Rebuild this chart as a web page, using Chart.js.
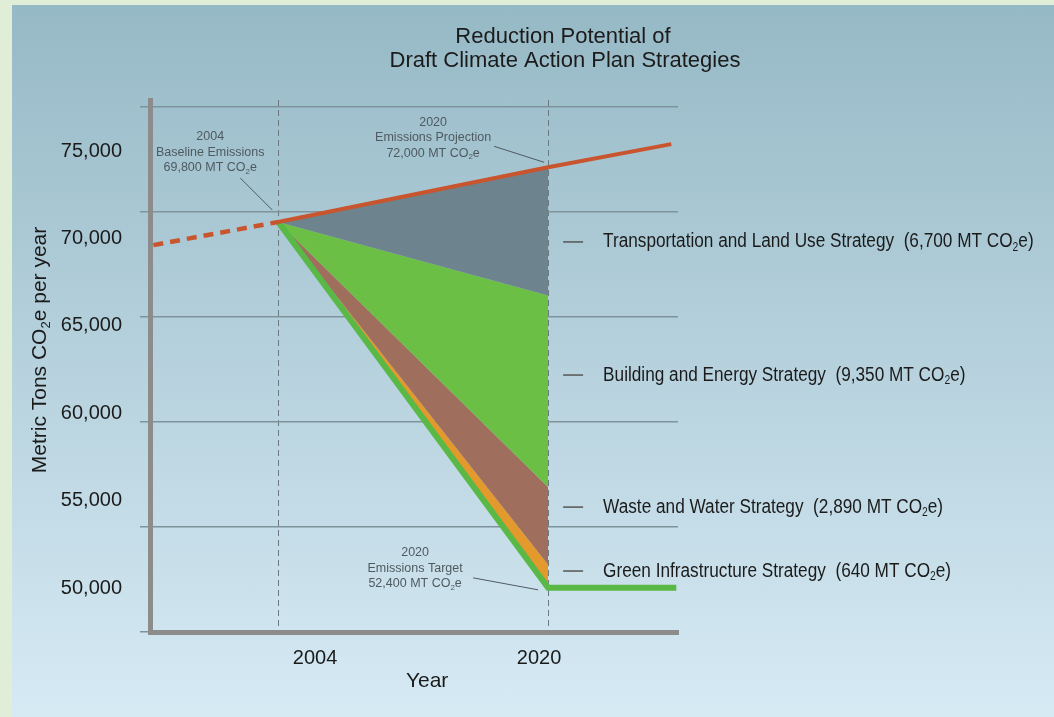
<!DOCTYPE html>
<html>
<head>
<meta charset="utf-8">
<script src="https://cdn.jsdelivr.net/npm/chart.js@4"></script>
<style>
  html, body { margin: 0; padding: 0; }
  body { width: 1054px; height: 717px; background: #e1eed7; position: relative; overflow: hidden; }
  #panel { position: absolute; left: 12px; top: 5px; right: 0; bottom: 0; background: linear-gradient(#96b9c6, #d6eaf4); }
  #chart { position: absolute; left: 0; top: 0; }
</style>
</head>
<body>
<div id="panel"></div>
<canvas id="chart" width="1054" height="717"></canvas>
<script>
// values (MT CO2e per year)
const histYears = [1996.6, 2004];
const histValues = [68400, 69500];
const projYears = [2004, 2020, 2027.3];
const projValues = [69500, 72100, 73200];
const wedgeYears = [2004, 2020];
const transportEdge = [69500, 66000];
const buildingEdge = [69500, 56900];
const wasteEdge = [69500, 53200];
const greenEdge = [69500, 52100];
const targetYears = [2004, 2020, 2027.6];
const targetValues = [69500, 52100, 52100];

const strategies = ['Transportation and Land Use Strategy', 'Building and Energy Strategy',
  'Waste and Water Strategy', 'Green Infrastructure Strategy'];
const strategyTons = ['6,700', '9,350', '2,890', '640'];
const yTickValues = [50000, 55000, 60000, 65000, 70000, 75000];
const xTickValues = [2004, 2020];

// where the strategy labels sit (y value at 2020)
const strategyLabelAt = [68550, 62220, 55940, 52900];

const notes = [
  { lines: ['2004', 'Baseline Emissions', '69,800 MT CO₂e'], year: 2004, value: 69500, dx: -68, dy: -85, lead: [-38, -44, -6, -12] },
  { lines: ['2020', 'Emissions Projection', '72,000 MT CO₂e'], year: 2020, value: 72100, dx: -115, dy: -45, lead: [-54, -21, -4, -5] },
  { lines: ['2020', 'Emissions Target', '52,400 MT CO₂e'], year: 2020, value: 52100, dx: -133, dy: -35, lead: [-75, -10, -10, 2] }
];

const FONT = '"Liberation Sans", Arial, sans-serif';

function pts(xs, ys) {
  return xs.map((x, i) => ({ x: x, y: ys[i] }));
}

// text with a lowered small "2" wherever ₂ appears
function richText(ctx, str, x, y, size, color, align, sx) {
  sx = sx || 1;
  const parts = str.split('₂');
  const big = size + 'px ' + FONT;
  const small = Math.round(size * 0.62) + 'px ' + FONT;
  ctx.save();
  ctx.fillStyle = color;
  ctx.textBaseline = 'middle';
  ctx.textAlign = 'left';
  let w = 0;
  parts.forEach((p, i) => {
    ctx.font = big; w += ctx.measureText(p).width;
    if (i < parts.length - 1) { ctx.font = small; w += ctx.measureText('2').width; }
  });
  ctx.translate(x, y);
  ctx.scale(sx, 1);
  let cx = align === 'center' ? -w / 2 : (align === 'right' ? -w : 0);
  parts.forEach((p, i) => {
    ctx.font = big; ctx.fillText(p, cx, 0); cx += ctx.measureText(p).width;
    if (i < parts.length - 1) {
      ctx.font = small; ctx.fillText('2', cx, size * 0.3); cx += ctx.measureText('2').width;
    }
  });
  ctx.restore();
}

const overlay = {
  id: 'overlay',
  afterDraw(chart) {
    const ctx = chart.ctx;
    const xs = chart.scales.x, ys = chart.scales.y, xl = chart.scales.xl;

    richText(ctx, 'Reduction Potential of', 563, 37, 22, '#1b1b1b', 'center');
    richText(ctx, 'Draft Climate Action Plan Strategies', 565, 61, 22, '#1b1b1b', 'center');

    ctx.save();
    ctx.translate(40, 350);
    ctx.rotate(-Math.PI / 2);
    richText(ctx, 'Metric Tons CO₂e per year', 0, 0, 21, '#1b1b1b', 'center');
    ctx.restore();

    const midX = (xl.getPixelForValue(xTickValues[0]) + xl.getPixelForValue(xTickValues[1])) / 2;
    richText(ctx, 'Year', midX, 681, 21, '#1b1b1b', 'center');

    notes.forEach(n => {
      const px = xs.getPixelForValue(n.year), py = ys.getPixelForValue(n.value);
      n.lines.forEach((t, i) => {
        richText(ctx, t, px + n.dx, py + n.dy + i * 15.5, 12.5, '#4f5a60', 'center');
      });
      ctx.save();
      ctx.strokeStyle = '#4f5a60';
      ctx.lineWidth = 1;
      ctx.beginPath();
      ctx.moveTo(px + n.lead[0], py + n.lead[1]);
      ctx.lineTo(px + n.lead[2], py + n.lead[3]);
      ctx.stroke();
      ctx.restore();
    });

    const x2020 = xs.getPixelForValue(2020);
    strategies.forEach((s, i) => {
      const py = ys.getPixelForValue(strategyLabelAt[i]);
      ctx.save();
      ctx.strokeStyle = '#555';
      ctx.lineWidth = 1.5;
      ctx.beginPath();
      ctx.moveTo(x2020 + 15, py);
      ctx.lineTo(x2020 + 35, py);
      ctx.stroke();
      ctx.restore();
      richText(ctx, s + '  (' + strategyTons[i] + ' MT CO₂e)', x2020 + 55, py, 20, '#1b1b1b', 'left', 0.86);
    });
  }
};

const lineBase = { pointRadius: 0, tension: 0, fill: false };

new Chart(document.querySelector('#chart'), {
  type: 'line',
  data: {
    datasets: [
      Object.assign({ data: pts(projYears, projValues), borderColor: '#c9552e', borderWidth: 4 }, lineBase),
      Object.assign({ data: pts(histYears, histValues), borderColor: '#c9552e', borderWidth: 4.5, borderDash: [10, 7] }, lineBase),
      Object.assign({ data: pts(targetYears, targetValues), borderColor: '#5ab847', borderWidth: 6 }, lineBase),
      Object.assign({}, lineBase, { data: pts(wedgeYears, projValues.slice(0, 2)), borderWidth: 0 }),
      Object.assign({}, lineBase, { data: pts(wedgeYears, transportEdge), borderWidth: 0, fill: 3, backgroundColor: '#6d838d' }),
      Object.assign({}, lineBase, { data: pts(wedgeYears, buildingEdge), borderWidth: 0, fill: 4, backgroundColor: '#6abf44' }),
      Object.assign({}, lineBase, { data: pts(wedgeYears, wasteEdge), borderWidth: 0, fill: 5, backgroundColor: '#a06e5d' }),
      Object.assign({}, lineBase, { data: pts(wedgeYears, greenEdge), borderWidth: 0, fill: 6, backgroundColor: '#e3992b' })
    ]
  },
  options: {
    responsive: false,
    animation: false,
    events: [],
    layout: { padding: { top: 100, right: 376, bottom: 0, left: 0 } },
    plugins: {
      legend: { display: false },
      tooltip: { enabled: false },
      title: { display: false }
    },
    scales: {
      x: {
        type: 'linear', position: 'bottom', weight: 0,
        min: 1996.4, max: 2027.7,
        afterBuildTicks: s => { s.ticks = xTickValues.map(v => ({ value: v })); },
        afterFit: s => { s.height = 0; },
        ticks: { display: false },
        grid: { color: '#6c7a80', lineWidth: 1, drawTicks: false },
        border: { display: true, width: 5, color: '#8c8c8c', dash: [6, 4] }
      },
      xl: {
        type: 'linear', position: 'bottom', weight: 1,
        min: 1992.21, max: 2029.92,
        afterBuildTicks: s => { s.ticks = xTickValues.map(v => ({ value: v })); },
        afterFit: s => { s.height = 85; },
        ticks: { color: '#1b1b1b', font: { family: FONT, size: 20 }, padding: 14, callback: v => String(v) },
        grid: { display: false, drawTicks: false },
        border: { display: false }
      },
      y: {
        type: 'linear', position: 'left', weight: 0,
        min: 50000, max: 75300,
        afterBuildTicks: s => { s.ticks = yTickValues.map(v => ({ value: v })); },
        afterFit: s => { s.width = 10; },
        ticks: { display: false },
        grid: { color: '#7f939b', lineWidth: 1.5, drawTicks: true, tickLength: 10 },
        border: { display: true, width: 5, color: '#8c8c8c' }
      },
      yl: {
        type: 'linear', position: 'left', weight: 1,
        min: 47483, max: 77918,
        afterBuildTicks: s => { s.ticks = yTickValues.map(v => ({ value: v })); },
        afterFit: s => { s.width = 140; },
        ticks: { color: '#1b1b1b', font: { family: FONT, size: 20 }, padding: 18,
          callback: v => v.toLocaleString('en-US') },
        grid: { display: false, drawTicks: false },
        border: { display: false }
      }
    }
  },
  plugins: [overlay]
});
</script>
</body>
</html>
